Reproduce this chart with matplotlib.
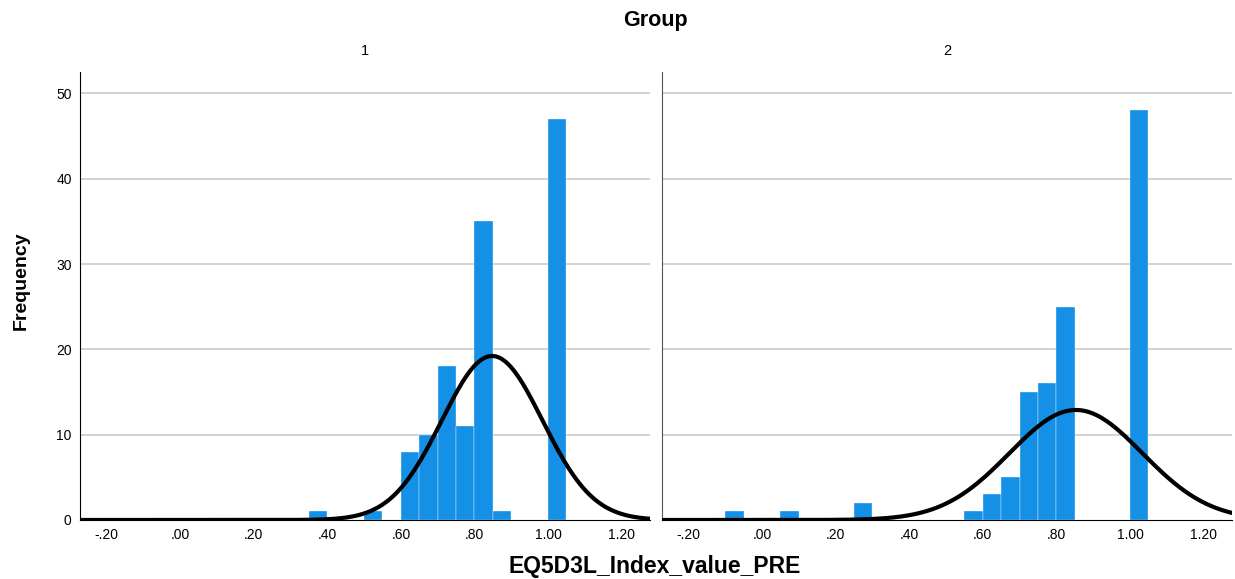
import numpy as np
import matplotlib.pyplot as plt

#-----data-----#
BIN_W = 0.05

# left edges of the non-empty bins and their counts
g1_edges = [0.35, 0.50, 0.60, 0.65, 0.70, 0.75, 0.80, 0.85, 1.00]
g1_counts = [1, 1, 8, 10, 18, 11, 35, 1, 47]

g2_edges = [-0.10, 0.05, 0.25, 0.55, 0.60, 0.65, 0.70, 0.75, 0.80, 1.00]
g2_counts = [1, 1, 2, 1, 3, 5, 15, 16, 25, 48]

# normal curve parameters (mean, sd)
g1_mean, g1_sd = 0.848, 0.137
g2_mean, g2_sd = 0.853, 0.181

groups = ['1', '2']
xticks = [-0.2, 0.0, 0.2, 0.4, 0.6, 0.8, 1.0, 1.2]
xticklabels = ['-.20', '.00', '.20', '.40', '.60', '.80', '1.00', '1.20']
yticks = [0, 10, 20, 30, 40, 50]

BAR_COLOR = '#1490e6'
FONT = 'Liberation Sans'

#-----figure-----#
fig = plt.figure(figsize=(12.35, 5.79), dpi=100)
ax1 = fig.add_axes([0.0648, 0.1019, 0.4615, 0.7737])
ax2 = fig.add_axes([0.536, 0.1019, 0.4615, 0.7737])

panels = [
    (ax1, g1_edges, g1_counts, g1_mean, g1_sd),
    (ax2, g2_edges, g2_counts, g2_mean, g2_sd),
]

xs = np.linspace(-0.3, 1.3, 400)

for i, (ax, edges, counts, mu, sd) in enumerate(panels):
    # grid first so bars sit on top
    for y in yticks[1:]:
        ax.axhline(y, color='#c6c6c6', lw=1.1, zorder=0)

    ax.bar(edges, counts, width=BIN_W, align='edge', color=BAR_COLOR,
           edgecolor='white', linewidth=0.25, zorder=2)

    # normal curve scaled to counts
    n = sum(counts)
    pdf = np.exp(-0.5 * ((xs - mu) / sd) ** 2) / (sd * np.sqrt(2 * np.pi))
    ax.plot(xs, n * BIN_W * pdf, color='black', lw=3, zorder=3,
            solid_capstyle='butt')

    ax.set_xlim(-0.272, 1.277)
    ax.set_ylim(0, 52.5)
    ax.set_xticks(xticks)
    ax.set_xticklabels(xticklabels, fontsize=10, family=FONT)
    ax.set_yticks(yticks)
    ax.tick_params(length=0, pad=6)

    for s in ['top', 'right']:
        ax.spines[s].set_visible(False)
    ax.spines['bottom'].set_color('black')
    ax.spines['left'].set_color('black' if i == 0 else '#555555')

    ax.set_title(groups[i], fontsize=10.5, family=FONT, pad=12)

ax1.set_yticklabels([str(v) for v in yticks], fontsize=10, family=FONT)
ax2.set_yticklabels([])

fig.text(0.5305, 0.965, 'Group', ha='center', va='center',
         fontsize=15.5, fontweight='bold', family=FONT)
fig.text(0.5305, 0.021, 'EQ5D3L_Index_value_PRE', ha='center', va='center',
         fontsize=16.5, fontweight='bold', family=FONT)
fig.text(0.017, 0.515, 'Frequency', ha='center', va='center', rotation=90,
         fontsize=14, fontweight='bold', family=FONT)

fig.savefig('out.png', dpi=100)
